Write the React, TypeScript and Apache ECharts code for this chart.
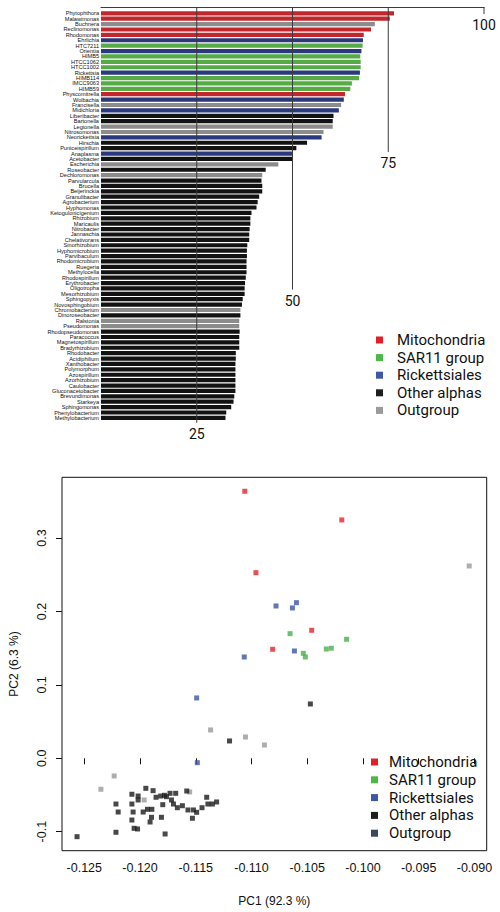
import React, { useEffect, useRef } from "react";
import * as echarts from "echarts";

// ---------- Top chart: ranked bars ----------
const barNames = [
  "Phytophthora", "Malawimonas", "Buchnera", "Reclinomonas", "Rhodomonas", "Ehrlichia", "HTC7211", "Orientia",
  "HIMB5", "HTCC1062", "HTCC1002", "Rickettsia", "HIMB114", "IMCC9063", "HIMB59", "Physcomitrella",
  "Wolbachia", "Francisella", "Midichloria", "Liberibacter", "Bartonella", "Legionella", "Nitrosomonas", "Neorickettsia",
  "Hirschia", "Puniceispirillum", "Anaplasma", "Acetobacter", "Escherichia", "Roseobacter", "Dechloromonas", "Parvularcula",
  "Brucella", "Beijerinckia", "Granulibacter", "Agrobacterium", "Hyphomonas", "Ketogulonicigenium", "Rhizobium", "Maricaulis",
  "Nitrobacter", "Jannaschia", "Chelativorans", "Sinorhizobium", "Hyphomicrobium", "Parvibaculum", "Rhodomicrobium", "Ruegeria",
  "Methylocella", "Rhodospirillum", "Erythrobacter", "Oligotropha", "Mesorhizobium", "Sphingopyxis", "Novosphingobium", "Chromobacterium",
  "Dinoroseobacter", "Ralstonia", "Pseudomonas", "Rhodopseudomonas", "Paracoccus", "Magnetospirillum", "Bradyrhizobium", "Rhodobacter",
  "Acidiphilium", "Xanthobacter", "Polymorphum", "Azospirillum", "Azorhizobium", "Caulobacter", "Gluconacetobacter", "Brevundimonas",
  "Starkeya", "Sphingomonas", "Phenylobacterium", "Methylobacterium",
];

const barValues = [
  76.5, 75.4, 71.5, 70.5, 68.6, 68.4, 68.3, 68.0,
  67.7, 67.8, 67.8, 67.6, 67.4, 65.5, 65.1, 63.7,
  63.4, 62.7, 62.1, 60.7, 60.5, 60.5, 58.1, 57.6,
  53.8, 51.0, 49.9, 49.9, 46.3, 43.0, 42.1, 41.9,
  42.1, 42.1, 41.3, 40.9, 40.6, 39.3, 39.0, 39.0,
  38.8, 38.7, 38.7, 38.2, 38.1, 38.1, 38.0, 38.0,
  38.0, 37.8, 37.6, 37.5, 37.5, 37.0, 36.8, 36.4,
  36.4, 36.1, 36.1, 36.2, 36.1, 36.1, 36.1, 35.2,
  35.2, 35.1, 35.1, 35.1, 35.1, 35.1, 35.1, 34.8,
  34.6, 34.0, 32.7, 32.5,
];

// M = Mitochondria, S = SAR11 group, R = Rickettsiales, O = Other alphas, G = Outgroup
const barGroups = [
  "M", "M", "G", "M", "M", "R", "S", "R",
  "S", "S", "S", "R", "S", "S", "S", "M",
  "R", "G", "R", "O", "O", "G", "G", "R",
  "O", "O", "R", "O", "G", "O", "G", "O",
  "O", "O", "O", "O", "O", "O", "O", "O",
  "O", "O", "O", "O", "O", "O", "O", "O",
  "O", "O", "O", "O", "O", "O", "O", "G",
  "O", "G", "G", "O", "O", "O", "O", "O",
  "O", "O", "O", "O", "O", "O", "O", "O",
  "O", "O", "O", "O",
];

const groupKeys = ["M", "S", "R", "O", "G"];
const groupNames = ["Mitochondria", "SAR11 group", "Rickettsiales", "Other alphas", "Outgroup"];

// scale lines of the top chart: value and the row (in bar rows) where each line stops
const scaleTicks = [25, 50, 75, 100];
const scaleLineEndRows = [75.9, 51.2, 25.7, 0.15];

// ---------- Bottom chart: PCA ----------
const pcaMito = [
  [-0.1106, 0.3638], [-0.1019, 0.3247], [-0.1096, 0.2529], [-0.1046, 0.1744], [-0.1081, 0.1485],
];
const pcaSar11 = [
  [-0.10654, 0.1698], [-0.10147, 0.1621], [-0.10329, 0.1489], [-0.10284, 0.1499], [-0.10535, 0.143], [-0.10517, 0.138],
];
const pcaRick = [
  [-0.1078, 0.2075], [-0.10597, 0.212], [-0.10633, 0.2048], [-0.10615, 0.1462], [-0.11065, 0.138],
  [-0.11492, 0.0822], [-0.11486, -0.006],
];
const pcaOther = [
  [-0.12565, -0.1068], [-0.12216, -0.0623], [-0.12196, -0.0732], [-0.12216, -0.1008], [-0.12073, -0.049],
  [-0.12073, -0.0623], [-0.12062, -0.0732], [-0.12073, -0.0841], [-0.12053, -0.0954], [-0.12022, -0.0963],
  [-0.12017, -0.0514], [-0.12017, -0.0568], [-0.11948, -0.0409], [-0.11972, -0.0732], [-0.11933, -0.0695],
  [-0.11894, -0.0695], [-0.11897, -0.0804], [-0.1191, -0.0868], [-0.11883, -0.0441], [-0.11856, -0.0531],
  [-0.11814, -0.0514], [-0.11796, -0.0632], [-0.11781, -0.0504], [-0.11763, -0.0523], [-0.11731, -0.0477],
  [-0.11718, -0.0568], [-0.117, -0.0623], [-0.1168, -0.0477], [-0.11808, -0.0804], [-0.11775, -0.1031],
  [-0.11665, -0.0673], [-0.11581, -0.0446], [-0.1162, -0.0646], [-0.1157, -0.0704], [-0.11521, -0.0704],
  [-0.1153, -0.0817], [-0.11492, -0.0736], [-0.11444, -0.0673], [-0.11402, -0.0531], [-0.11391, -0.0623],
  [-0.11351, -0.0623], [-0.11313, -0.0595], [-0.10472, 0.074], [-0.11197, 0.0236],
];
const pcaOut = [
  [-0.09047, 0.262], [-0.11367, 0.0386], [-0.11054, 0.029], [-0.10884, 0.0181], [-0.12232, -0.0241],
  [-0.12351, -0.0422], [-0.11963, -0.0568], [-0.11555, -0.0459],
];
const pcaXTicks = [-0.125, -0.12, -0.115, -0.11, -0.105, -0.1, -0.095, -0.09];
const pcaYTicks = [-0.1, 0, 0.1, 0.2, 0.3];

const barColors: Record<string, string> = {
  M: "#c1272d", S: "#56ab47", R: "#29397c", O: "#121212", G: "#8c8c8c",
};
const topLegendColors = ["#e31e26", "#4cb848", "#3d59a6", "#1e1e1e", "#9a9a9a"];
const pcaColors = ["#e4232b", "#47b04b", "#3a55a4", "#1a1a1a", "#9a9a9a"];
const pcaLegendColors = ["#e31e26", "#4cb848", "#3d59a6", "#1e1e1e", "#3b4760"];

const LEGEND_FONT = "Roboto, 'Noto Sans', sans-serif";
const AXIS_FONT = "'Liberation Sans', Arial, sans-serif";

export default function App() {
  const ref = useRef<HTMLDivElement>(null);

  useEffect(() => {
    if (!ref.current) return;
    const chart = echarts.init(ref.current, undefined, { renderer: "svg" });

    const barSeries = groupKeys.map((g, gi) => ({
      type: "bar",
      name: groupNames[gi],
      xAxisIndex: 0,
      yAxisIndex: 0,
      barWidth: 4.2,
      barGap: "-100%",
      itemStyle: { color: barColors[g] },
      data: barValues.map((v, i) => (barGroups[i] === g ? v : null)),
      silent: true,
    }));

    const scaleSeries = {
      type: "custom",
      name: "scale",
      xAxisIndex: 0,
      yAxisIndex: 0,
      z: 10,
      silent: true,
      encode: { x: 0, y: 1 },
      data: scaleTicks.map((t, i) => [t, 0, scaleLineEndRows[i]]),
      renderItem: (params: any, api: any) => {
        const val = api.value(0);
        const endRow = api.value(2);
        const cs = params.coordSys;
        const p0 = api.coord([val, 0]);
        const band = api.size([0, 1])[1];
        const x = p0[0];
        const yTop = cs.y - 3.5;
        const yEnd = p0[1] + endRow * band;
        return {
          type: "group",
          children: [
            {
              type: "line",
              shape: { x1: x, y1: yTop, x2: x, y2: yEnd },
              style: { stroke: "#3a3a3a", lineWidth: 1 },
            },
            {
              type: "text",
              x,
              y: yEnd + 4,
              style: {
                text: String(val),
                align: "center",
                verticalAlign: "top",
                fontSize: 14,
                fontFamily: LEGEND_FONT,
                fill: "#111",
              },
            },
          ],
        };
      },
    };

    const pcaData = [pcaMito, pcaSar11, pcaRick, pcaOther, pcaOut];
    const drawOrder = [4, 3, 2, 1, 0];
    const scatterSeries = drawOrder.map((k) => ({
      type: "scatter",
      name: groupNames[k],
      xAxisIndex: 1,
      yAxisIndex: 1,
      symbol: "rect",
      symbolSize: 5,
      itemStyle: { color: pcaColors[k] },
      data: pcaData[k],
      silent: true,
    }));

    const legendText = {
      fontFamily: LEGEND_FONT,
      fontSize: 15,
      color: "#111",
      lineHeight: 16,
    };

    chart.setOption({
      animation: false,
      backgroundColor: "#fff",
      grid: [
        { left: 101, top: 10.6, width: 383, height: 410, containLabel: false },
        {
          left: 61, top: 477.3, width: 425.7, height: 373.4, show: true,
          borderColor: "#111", borderWidth: 1, backgroundColor: "transparent",
        },
      ],
      xAxis: [
        {
          type: "value", gridIndex: 0, min: 0, max: 100, position: "top", offset: 3.5,
          axisLine: { show: true, lineStyle: { color: "#3a3a3a", width: 1 } },
          axisTick: { show: false }, axisLabel: { show: false }, splitLine: { show: false },
        },
        {
          type: "value", gridIndex: 1, min: -0.127, max: -0.0889,
          axisLine: { show: false },
          axisTick: { show: true, length: 6, customValues: pcaXTicks, lineStyle: { color: "#111" } },
          axisLabel: {
            customValues: pcaXTicks, formatter: (v: number) => v.toFixed(3),
            fontFamily: AXIS_FONT, fontSize: 12.5, color: "#111", margin: 11,
          },
          splitLine: { show: false },
          name: "PC1 (92.3 %)", nameLocation: "middle", nameGap: 44,
          nameTextStyle: { fontFamily: AXIS_FONT, fontSize: 12, color: "#111" },
        },
      ],
      yAxis: [
        {
          type: "category", gridIndex: 0, data: barNames, inverse: true,
          axisLine: { show: false }, axisTick: { show: false },
          axisLabel: {
            interval: 0, fontSize: 5.6, lineHeight: 5.3, margin: 2, color: "#111",
            fontFamily: "'Liberation Sans', Arial, sans-serif",
          },
        },
        {
          type: "value", gridIndex: 1, min: -0.1259, max: 0.3828,
          axisLine: { show: false },
          axisTick: { show: true, length: 6, customValues: pcaYTicks, lineStyle: { color: "#111" } },
          axisLabel: {
            customValues: pcaYTicks, formatter: (v: number) => v.toFixed(1), rotate: 90,
            fontFamily: AXIS_FONT, fontSize: 12.5, color: "#111", margin: 14,
          },
          splitLine: { show: false },
          name: "PC2 (6.3 %)", nameLocation: "middle", nameGap: 42,
          nameTextStyle: { fontFamily: AXIS_FONT, fontSize: 12, color: "#111" },
        },
      ],
      legend: [
        {
          orient: "vertical", left: 376, top: 332, padding: 0, itemGap: 1.6,
          icon: "rect", itemWidth: 7, itemHeight: 7,
          selectedMode: false,
          textStyle: { ...legendText, padding: [0, 0, 0, 9] },
          data: groupNames.map((n, i) => ({ name: n, itemStyle: { color: topLegendColors[i] } })),
        },
        {
          orient: "vertical", left: 371, top: 754, padding: 0, itemGap: 1.8,
          icon: "rect", itemWidth: 7, itemHeight: 7,
          selectedMode: false,
          textStyle: { ...legendText, padding: [0, 0, 0, 6] },
          data: groupNames.map((n, i) => ({ name: n, itemStyle: { color: pcaLegendColors[i] } })),
        },
      ],
      series: [...barSeries, scaleSeries, ...scatterSeries],
    });

    return () => chart.dispose();
  }, []);

  return (
    <div
      ref={ref}
      style={{ position: "absolute", left: 0, top: 0, width: 500, height: 912, background: "#fff" }}
    />
  );
}
